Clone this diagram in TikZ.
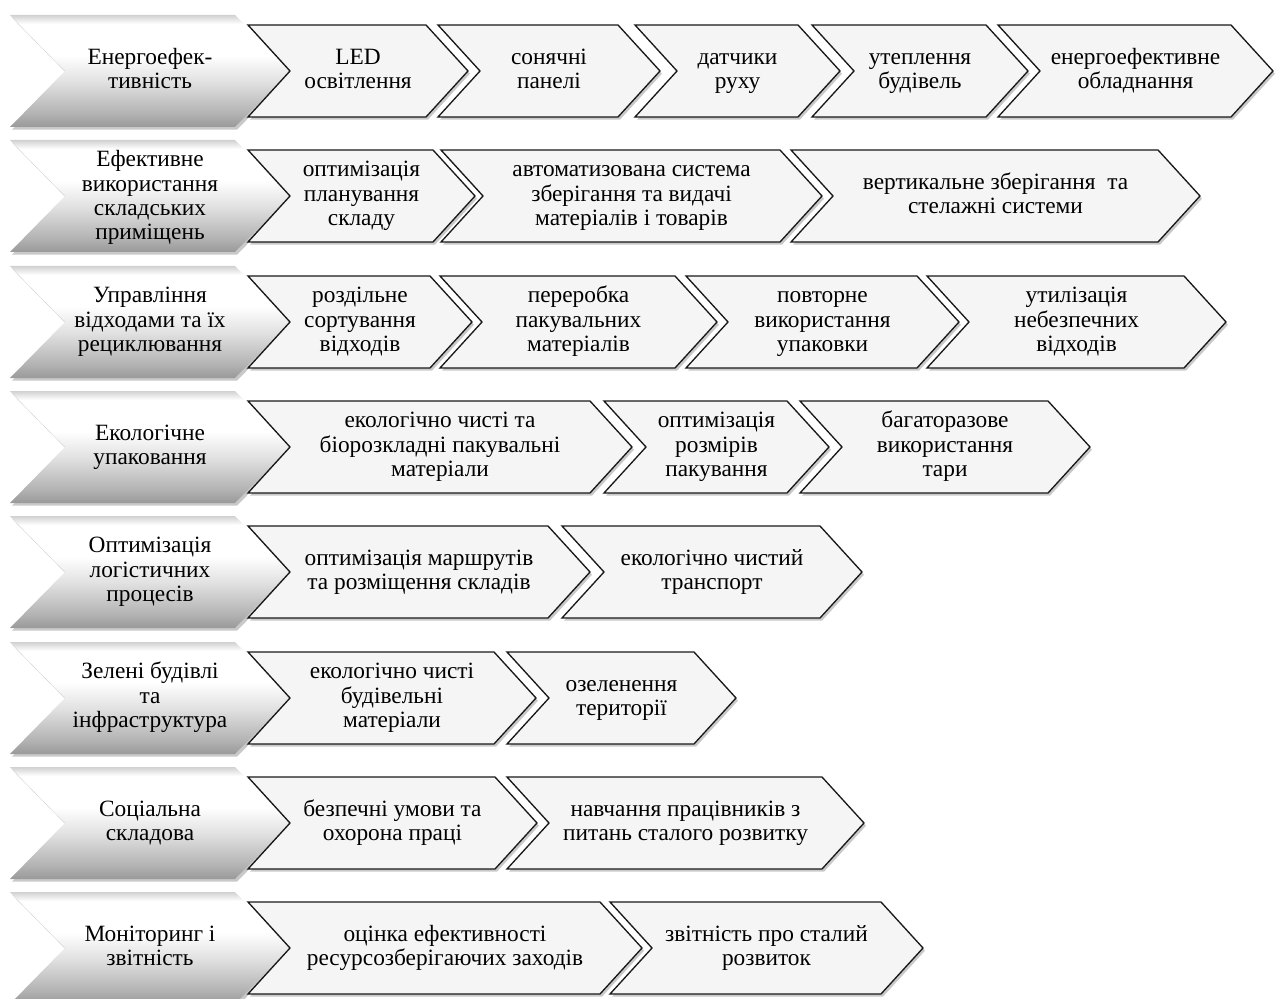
\documentclass[tikz,border=0pt]{standalone}
\usepackage{fontspec}
\setmainfont{Liberation Serif}
\usetikzlibrary{shadows}

\pgfdeclareverticalshading{greybevel}{100bp}{color(0bp)=(black!40); color(25bp)=(black!40); color(31bp)=(black!30); color(45bp)=(black!12); color(57bp)=(white); color(71bp)=(white); color(75bp)=(black!18); color(100bp)=(black!18)}
% even strut for first and last text line
\newcommand{\lnstrut}{\rule[-5pt]{0pt}{18pt}}

\tikzset{every picture/.style={line width=0.75pt}}
\tikzset{
  headchev/.style={shading=greybevel, draw=none,
    drop shadow={shadow xshift=1.5pt, shadow yshift=-2pt, opacity=0.3, fill=black!70}},
  itemchev/.style={fill=black!4, draw=black!90, line width=1pt,
    drop shadow={shadow xshift=1.5pt, shadow yshift=-2pt, opacity=0.3, fill=black!70}},
  chevtext/.style={align=center, inner sep=0.75pt, font=\fontsize{17.5}{18.3}\selectfont}
}

\begin{document}
\begin{tikzpicture}[x=0.75pt,y=0.75pt,yscale=-1,xscale=1]
\useasboundingbox (0,0) rectangle (1276,998);

%Row 1
\draw [headchev] (10,15) -- ++(225,0) -- ++(55,56) -- ++(-55,56) -- ++(-225,0) -- ++(55,-56) -- cycle ;
\draw [itemchev] (248,25) -- ++(178,0) -- ++(42,46) -- ++(-42,46) -- ++(-178,0) -- ++(42,-46) -- cycle ;
\draw [itemchev] (438,25) -- ++(180,0) -- ++(42,46) -- ++(-42,46) -- ++(-180,0) -- ++(42,-46) -- cycle ;
\draw [itemchev] (635,25) -- ++(163,0) -- ++(42,46) -- ++(-42,46) -- ++(-163,0) -- ++(42,-46) -- cycle ;
\draw [itemchev] (812,25) -- ++(174,0) -- ++(42,46) -- ++(-42,46) -- ++(-174,0) -- ++(42,-46) -- cycle ;
\draw [itemchev] (998,25) -- ++(233,0) -- ++(42,46) -- ++(-42,46) -- ++(-233,0) -- ++(42,-46) -- cycle ;
% Text Node
\draw (150,71) node (energy) [chevtext] {\lnstrut Енергоефек-\\тивність\lnstrut};
\draw (358,71) node (led) [chevtext] {\lnstrut LED\\освітлення\lnstrut};
\draw (549,71) node (solar) [chevtext] {\lnstrut сонячні\\панелі\lnstrut};
\draw (737.5,71) node (motion) [chevtext] {\lnstrut датчики\\руху\lnstrut};
\draw (920,71) node (insul) [chevtext] {\lnstrut утеплення\\будівель\lnstrut};
\draw (1135.5,71) node (equip) [chevtext] {\lnstrut енергоефективне\\обладнання\lnstrut};

%Row 2
\draw [headchev] (10,140) -- ++(225,0) -- ++(55,56) -- ++(-55,56) -- ++(-225,0) -- ++(55,-56) -- cycle ;
\draw [itemchev] (248,150) -- ++(185,0) -- ++(42,46) -- ++(-42,46) -- ++(-185,0) -- ++(42,-46) -- cycle ;
\draw [itemchev] (441,150) -- ++(339,0) -- ++(42,46) -- ++(-42,46) -- ++(-339,0) -- ++(42,-46) -- cycle ;
\draw [itemchev] (791,150) -- ++(367,0) -- ++(42,46) -- ++(-42,46) -- ++(-367,0) -- ++(42,-46) -- cycle ;
% Text Node
\draw (150,198) node (storage) [chevtext] {\lnstrut Ефективне\\використання\\складських\\приміщень\lnstrut};
\draw (361.5,196) node (layout) [chevtext] {\lnstrut оптимізація\\планування\\складу\lnstrut};
\draw (631.5,196) node (autosys) [chevtext] {\lnstrut автоматизована система\\зберігання та видачі\\матеріалів і товарів\lnstrut};
\draw (995.5,196) node (racks) [chevtext] {\lnstrut вертикальне зберігання \ та\\стелажні системи\lnstrut};

%Row 3
\draw [headchev] (10,266) -- ++(225,0) -- ++(55,56) -- ++(-55,56) -- ++(-225,0) -- ++(55,-56) -- cycle ;
\draw [itemchev] (248,276) -- ++(182,0) -- ++(42,46) -- ++(-42,46) -- ++(-182,0) -- ++(42,-46) -- cycle ;
\draw [itemchev] (440,276) -- ++(235,0) -- ++(42,46) -- ++(-42,46) -- ++(-235,0) -- ++(42,-46) -- cycle ;
\draw [itemchev] (686,276) -- ++(231,0) -- ++(42,46) -- ++(-42,46) -- ++(-231,0) -- ++(42,-46) -- cycle ;
\draw [itemchev] (927,276) -- ++(257,0) -- ++(42,46) -- ++(-42,46) -- ++(-257,0) -- ++(42,-46) -- cycle ;
% Text Node
\draw (150,322) node (waste) [chevtext] {\lnstrut Управління\\відходами та їх\\рециклювання\lnstrut};
\draw (360,322) node (sorting) [chevtext] {\lnstrut роздільне\\сортування\\відходів\lnstrut};
\draw (578.5,322) node (recycle) [chevtext] {\lnstrut переробка\\пакувальних\\матеріалів\lnstrut};
\draw (822.5,322) node (reuse) [chevtext] {\lnstrut повторне\\використання\\упаковки\lnstrut};
\draw (1076.5,322) node (hazard) [chevtext] {\lnstrut утилізація\\небезпечних\\відходів\lnstrut};

%Row 4
\draw [headchev] (10,391) -- ++(225,0) -- ++(55,56) -- ++(-55,56) -- ++(-225,0) -- ++(55,-56) -- cycle ;
\draw [itemchev] (248,401) -- ++(342,0) -- ++(42,46) -- ++(-42,46) -- ++(-342,0) -- ++(42,-46) -- cycle ;
\draw [itemchev] (604,401) -- ++(183,0) -- ++(42,46) -- ++(-42,46) -- ++(-183,0) -- ++(42,-46) -- cycle ;
\draw [itemchev] (800,401) -- ++(248,0) -- ++(42,46) -- ++(-42,46) -- ++(-248,0) -- ++(42,-46) -- cycle ;
% Text Node
\draw (150,447) node (packing) [chevtext] {\lnstrut Екологічне\\упаковання\lnstrut};
\draw (440,447) node (biomat) [chevtext] {\lnstrut екологічно чисті та\\біорозкладні пакувальні\\матеріали\lnstrut};
\draw (716.5,447) node (packsize) [chevtext] {\lnstrut оптимізація\\розмірів\\пакування\lnstrut};
\draw (945,447) node (returnable) [chevtext] {\lnstrut багаторазове\\використання\\тари\lnstrut};

%Row 5
\draw [headchev] (10,516) -- ++(225,0) -- ++(55,56) -- ++(-55,56) -- ++(-225,0) -- ++(55,-56) -- cycle ;
\draw [itemchev] (248,526) -- ++(300,0) -- ++(42,46) -- ++(-42,46) -- ++(-300,0) -- ++(42,-46) -- cycle ;
\draw [itemchev] (562,526) -- ++(258,0) -- ++(42,46) -- ++(-42,46) -- ++(-258,0) -- ++(42,-46) -- cycle ;
% Text Node
\draw (150,572) node (logistics) [chevtext] {\lnstrut Оптимізація\\логістичних\\процесів\lnstrut};
\draw (419,572) node (routes) [chevtext] {\lnstrut оптимізація маршрутів\\та розміщення складів\lnstrut};
\draw (712,572) node (transport) [chevtext] {\lnstrut екологічно чистий\\транспорт\lnstrut};

%Row 6
\draw [headchev] (10,642) -- ++(225,0) -- ++(55,56) -- ++(-55,56) -- ++(-225,0) -- ++(55,-56) -- cycle ;
\draw [itemchev] (248,652) -- ++(246,0) -- ++(42,46) -- ++(-42,46) -- ++(-246,0) -- ++(42,-46) -- cycle ;
\draw [itemchev] (507,652) -- ++(187,0) -- ++(42,46) -- ++(-42,46) -- ++(-187,0) -- ++(42,-46) -- cycle ;
% Text Node
\draw (150,698) node (green) [chevtext] {\lnstrut Зелені будівлі\\та\\інфраструктура\lnstrut};
\draw (392,698) node (buildmat) [chevtext] {\lnstrut екологічно чисті\\будівельні\\матеріали\lnstrut};
\draw (621.5,698) node (landscape) [chevtext] {\lnstrut озеленення\\території\lnstrut};

%Row 7
\draw [headchev] (10,767) -- ++(225,0) -- ++(55,56) -- ++(-55,56) -- ++(-225,0) -- ++(55,-56) -- cycle ;
\draw [itemchev] (248,777) -- ++(247,0) -- ++(42,46) -- ++(-42,46) -- ++(-247,0) -- ++(42,-46) -- cycle ;
\draw [itemchev] (507,777) -- ++(315,0) -- ++(42,46) -- ++(-42,46) -- ++(-315,0) -- ++(42,-46) -- cycle ;
% Text Node
\draw (150,823) node (social) [chevtext] {\lnstrut Соціальна\\складова\lnstrut};
\draw (392.5,823) node (safety) [chevtext] {\lnstrut безпечні умови та\\охорона праці\lnstrut};
\draw (685.5,823) node (training) [chevtext] {\lnstrut навчання працівників з\\питань сталого розвитку\lnstrut};

%Row 8
\draw [headchev] (10,892) -- ++(225,0) -- ++(55,56) -- ++(-55,56) -- ++(-225,0) -- ++(55,-56) -- cycle ;
\draw [itemchev] (248,902) -- ++(352,0) -- ++(42,46) -- ++(-42,46) -- ++(-352,0) -- ++(42,-46) -- cycle ;
\draw [itemchev] (610,902) -- ++(271,0) -- ++(42,46) -- ++(-42,46) -- ++(-271,0) -- ++(42,-46) -- cycle ;
% Text Node
\draw (150,948) node (monitor) [chevtext] {\lnstrut Моніторинг і\\звітність\lnstrut};
\draw (445,948) node (assess) [chevtext] {\lnstrut оцінка ефективності\\ресурсозберігаючих заходів\lnstrut};
\draw (766.5,948) node (report) [chevtext] {\lnstrut звітність про сталий\\розвиток\lnstrut};

\end{tikzpicture}
\end{document}
